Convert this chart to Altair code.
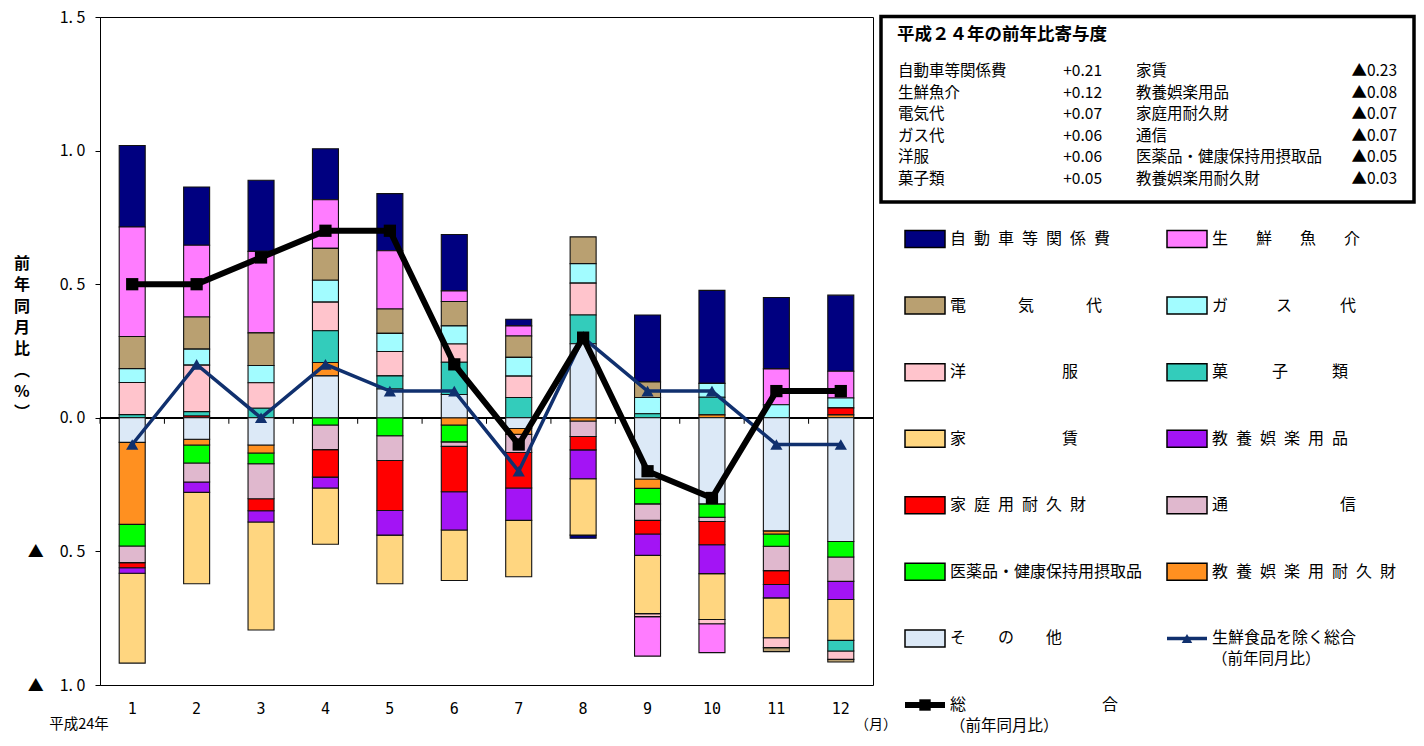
import altair as alt
import pandas as pd

months = list(range(1, 13))

categories = ["自動車等関係費", "生鮮魚介", "電気代", "ガス代", "洋服", "菓子類",
              "家賃", "教養娯楽用品", "家庭用耐久財", "通信",
              "医薬品・健康保持用摂取品", "教養娯楽用耐久財", "その他"]

car = [0.305, 0.218, 0.266, 0.191, 0.214, 0.211, 0.025, -0.012, 0.251, 0.348, 0.267, 0.285]
fish = [0.410, 0.269, 0.305, 0.182, 0.218, 0.040, 0.038, 0.0, -0.148, -0.108, 0.134, 0.100]
electric = [0.120, 0.120, 0.122, 0.119, 0.091, 0.091, 0.080, 0.100, 0.058, 0.0, -0.015, -0.010]
gas = [0.052, 0.060, 0.065, 0.082, 0.068, 0.068, 0.070, 0.073, 0.061, 0.052, 0.049, 0.037]
clothes = [0.120, 0.174, 0.095, 0.107, 0.091, 0.068, 0.080, 0.119, -0.011, -0.016, -0.037, -0.031]
sweets = [0.012, 0.016, 0.036, 0.119, 0.049, 0.121, 0.076, 0.108, 0.015, 0.066, 0.0, -0.040]
rent = [-0.336, -0.342, -0.404, -0.210, -0.182, -0.189, -0.211, -0.211, -0.218, -0.172, -0.149, -0.153]
recreation_goods = [-0.021, -0.039, -0.042, -0.041, -0.092, -0.143, -0.121, -0.108, -0.080, -0.108, -0.050, -0.068]
household_durables = [-0.019, 0.007, -0.045, -0.103, -0.187, -0.170, -0.133, -0.050, -0.051, -0.087, -0.052, 0.026]
communication = [-0.062, -0.071, -0.131, -0.092, -0.093, -0.017, -0.068, -0.058, -0.062, -0.016, -0.091, -0.091]
medicine = [-0.081, -0.067, -0.040, -0.027, -0.067, -0.063, 0.0, 0.0, -0.058, -0.050, -0.046, -0.058]
recreation_durables = [-0.307, -0.022, -0.030, 0.050, 0.0, -0.027, -0.022, -0.012, -0.035, 0.011, -0.012, 0.011]
others = [-0.092, -0.080, -0.102, 0.157, 0.108, 0.087, -0.040, 0.277, -0.229, -0.322, -0.423, -0.463]

total = [0.5, 0.5, 0.6, 0.7, 0.7, 0.2, -0.1, 0.3, -0.2, -0.3, 0.1, 0.1]
core = [-0.1, 0.2, 0.0, 0.2, 0.1, 0.1, -0.2, 0.3, 0.1, 0.1, -0.1, -0.1]

colors = ["#000080", "#FF7CFF", "#B9A071", "#A2FCFF", "#FFC4CC", "#33CCBB",
          "#FFD680", "#A314F5", "#FF0000", "#E0B8CE",
          "#00FF00", "#FF9020", "#DCE9F7"]
NAVY = "#10306E"

E, N, Q = "\u3000", "\u2002", "\u2005"
legend_labels = [
    N.join("自動車等関係費"),
    (E + N + Q).join("生鮮魚介"),
    (E * 3 + Q).join("電気代"),
    (E * 3).join("ガス代"),
    (E * 6).join("洋服"),
    (E * 2 + N + Q).join("菓子類"),
    (E * 6).join("家賃"),
    N.join("教養娯楽用品"),
    N.join("家庭用耐久財"),
    (E * 7).join("通信"),
    "医薬品・健康保持用摂取品",
    N.join("教養娯楽用耐久財"),
    (E * 2).join("その他"),
]
line_labels = ["生鮮食品を除く総合", (E * 8 + N).join("総合")]
line_sub = "（前年同月比）"

table_title = "平成２４年の前年比寄与度"
table_left_names = ["自動車等関係費", "生鮮魚介", "電気代", "ガス代", "洋服", "菓子類"]
table_left_vals = ["+0.21", "+0.12", "+0.07", "+0.06", "+0.06", "+0.05"]
table_right_names = ["家賃", "教養娯楽用品", "家庭用耐久財", "通信", "医薬品・健康保持用摂取品", "教養娯楽用耐久財"]
table_right_vals = ["▲0.23", "▲0.08", "▲0.07", "▲0.07", "▲0.05", "▲0.03"]

JP = "Noto Sans CJK JP"
MONO = "DejaVu Sans Mono"

series = [car, fish, electric, gas, clothes, sweets, rent, recreation_goods,
          household_durables, communication, medicine, recreation_durables, others]
rows = []
for i, (cat, vals) in enumerate(zip(categories, series)):
    for m, v in zip(months, vals):
        if v != 0:
            rows.append({"month": m, "cat": cat, "idx": i, "value": v})
bars_df = pd.DataFrame(rows)
total_df = pd.DataFrame({"month": months, "value": total})
core_df = pd.DataFrame({"month": months, "value": core})
zero_df = pd.DataFrame({"month": months, "value": [0.0] * 12})
one = pd.DataFrame({"a": [0]})

x_axis = alt.Axis(title=None, labelAngle=0, domain=False, ticks=False, labelPadding=16,
                  labelFont=MONO, labelFontSize=15, labelColor="black")
y_axis = alt.Axis(title=None, values=[-1.0, -0.5, 0.0, 0.5, 1.0, 1.5], grid=False,
                  labelExpr="(datum.value < 0 ? '▲\u3000' : '') + replace(format(abs(datum.value), '.1f'), '.', '. ')",
                  labelFont=JP, labelFontSize=16, labelColor="black", labelPadding=10,
                  tickSize=5, tickColor="black", domainColor="black", labelFlush=False,
                  labelOverlap=False)
x_scale = alt.Scale(paddingInner=0, paddingOuter=0)
y_scale = alt.Scale(domain=[-1.0, 1.5], nice=False, zero=False)


def X():
    return alt.X("month:O", scale=x_scale, axis=x_axis, title=None)


def Y(field="value:Q", stack=None):
    return alt.Y(field, scale=y_scale, axis=y_axis, title=None, stack=stack)


color_enc = alt.Color("cat:N", scale=alt.Scale(domain=categories, range=colors), legend=None)

zero_rule = alt.Chart(zero_df).mark_rule(color="black", strokeWidth=1).encode(y=Y())
zero_ticks = alt.Chart(zero_df).mark_tick(orient="vertical", color="black", size=6, thickness=1,
                                          xOffset=-32.2, yOffset=3, opacity=1).encode(x=X(), y=Y())
bars = alt.Chart(bars_df).mark_bar(size=26, stroke="#111", strokeWidth=1.1).encode(
    x=X(), y=Y(stack="zero"), color=color_enc,
    order=alt.Order("idx:Q", sort="descending"))
core_line = alt.Chart(core_df).mark_line(color=NAVY, strokeWidth=3.5).encode(x=X(), y=Y())
core_pts = alt.Chart(core_df).mark_point(shape="triangle-up", filled=True, size=150, color=NAVY,
                                         opacity=1).encode(x=X(), y=Y())
total_line = alt.Chart(total_df).mark_line(color="black", strokeWidth=6).encode(x=X(), y=Y())
total_pts = alt.Chart(total_df).mark_square(size=150, color="black", opacity=1).encode(x=X(), y=Y())

y_title = alt.Chart(one).mark_text(
    text=["前", "年", "同", "月", "比", "︵", "%", "︶"], lineHeight=21.3, baseline="middle",
    align="center", font=JP, fontSize=16, fontWeight="bold", color="black"
).encode(x=alt.value(-78), y=alt.value(247))
year_text = alt.Chart(one).mark_text(text="平成24年", font=JP, fontSize=14.5, color="black",
                                     baseline="middle").encode(x=alt.value(-21), y=alt.value(708))
unit_text = alt.Chart(one).mark_text(text="（月）", font=JP, fontSize=14, color="black",
                                     baseline="middle").encode(x=alt.value(776), y=alt.value(708))

main = alt.layer(zero_rule, bars, zero_ticks, core_line, core_pts, total_line, total_pts,
                 y_title, year_text, unit_text)

# ---------- legend ----------
leg_df = pd.DataFrame({"cat": categories, "label": legend_labels,
                       "col": [i % 2 for i in range(len(categories))],
                       "row": [i // 2 for i in range(len(categories))]})
n0 = len(categories)
line_leg_df = pd.DataFrame({"label": line_labels, "sub": [line_sub, line_sub],
                            "col": [(n0 + k) % 2 for k in range(2)],
                            "row": [(n0 + k) // 2 for k in range(2)]})
core_leg = line_leg_df.iloc[[0]]
total_leg = line_leg_df.iloc[[1]]

LX = alt.X("col:Q", scale=alt.Scale(domain=[0, 1], range=[805, 1067], nice=False, zero=False), axis=None)
LY = alt.Y("row:Q", scale=alt.Scale(domain=[0, 7], range=[222, 688], nice=False, zero=False), axis=None)

swatches = alt.Chart(leg_df).mark_point(shape="M0,-1.7H8V1.7H0Z", size=100, filled=True,
                                        stroke="black", strokeWidth=1.5, opacity=1).encode(
    x=LX, y=LY, color=color_enc)
leg_text = alt.Chart(leg_df).mark_text(align="left", baseline="middle", dx=45, font=JP,
                                       fontSize=16, color="black").encode(x=LX, y=LY, text="label:N")
line_text = alt.Chart(line_leg_df).mark_text(align="left", baseline="middle", dx=45, font=JP,
                                             fontSize=16, color="black").encode(x=LX, y=LY, text="label:N")
line_sub_text = alt.Chart(line_leg_df).mark_text(align="left", baseline="middle", dx=45, dy=21, font=JP,
                                                 fontSize=15.5, color="black").encode(x=LX, y=LY, text="sub:N")
core_sym = alt.Chart(core_leg).mark_point(shape="M0,0H8", size=100, filled=False, stroke=NAVY,
                                          strokeWidth=3.5, opacity=1).encode(x=LX, y=LY)
core_mark = alt.Chart(core_leg).mark_point(shape="triangle-up", filled=True, size=110, color=NAVY,
                                           opacity=1, xOffset=20).encode(x=LX, y=LY)
total_sym = alt.Chart(total_leg).mark_point(shape="M0,0H8", size=100, filled=False, stroke="black",
                                            strokeWidth=6, opacity=1).encode(x=LX, y=LY)
total_mark = alt.Chart(total_leg).mark_square(size=130, color="black", opacity=1,
                                              xOffset=20).encode(x=LX, y=LY)

legend = alt.layer(swatches, leg_text, line_text, line_sub_text, core_sym, core_mark, total_sym, total_mark)

# ---------- contribution table ----------
tab_df = pd.DataFrame({"row": list(range(6)), "ln": table_left_names, "lv": table_left_vals,
                       "rn": table_right_names, "rv": table_right_vals})
TY = alt.Y("row:Q", scale=alt.Scale(domain=[0, 5], range=[54, 161.5], nice=False, zero=False), axis=None)

box = alt.Chart(one).mark_rect(filled=False, color="black", strokeWidth=3.5).encode(
    x=alt.value(781), x2=alt.value(1314), y=alt.value(-0.5), y2=alt.value(185))
box_title = alt.Chart(one).mark_text(text=table_title, align="left", baseline="middle", font=JP,
                                     fontSize=17.5, fontWeight="bold", color="black").encode(
    x=alt.value(797), y=alt.value(18))


def tcol(field, xpos, align):
    return alt.Chart(tab_df).mark_text(align=align, baseline="middle", font=JP, fontSize=15.5,
                                       color="black").encode(x=alt.value(xpos), y=TY, text=f"{field}:N")


table = alt.layer(box, box_title, tcol("ln", 798, "left"), tcol("lv", 1002, "right"),
                  tcol("rn", 1036, "left"), tcol("rv", 1297, "right"))

chart = alt.layer(main, legend, table).resolve_scale(x="independent", y="independent").properties(
    width=773, height=668,
    padding={"left": 92, "top": 9, "right": 543, "bottom": 51},
    autosize=alt.AutoSizeParams(type="none"),
).configure_view(stroke="black", strokeWidth=1)

chart.save("out.html", embed_options={"renderer": "svg", "actions": False})
